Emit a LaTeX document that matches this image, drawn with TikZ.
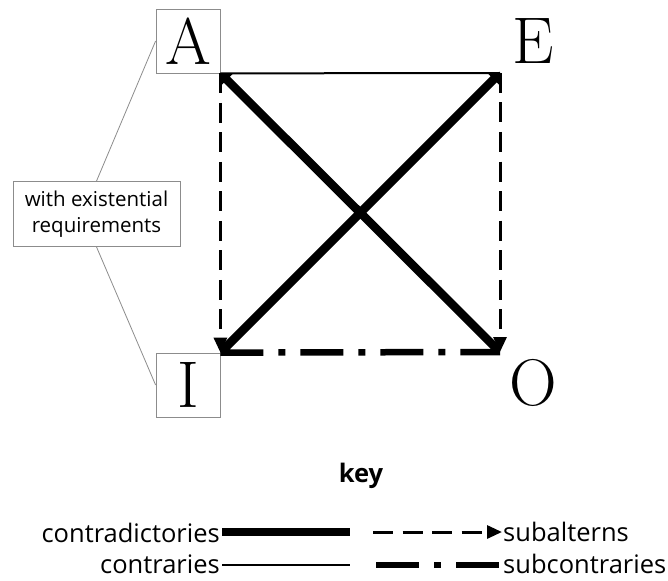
\documentclass[tikz,border=0pt]{standalone}
\usepackage{fontspec}
\setsansfont{Open Sans}
\usetikzlibrary{arrows.meta,positioning}
\tikzstyle{letter}=[font=\fontsize{66}{66}\selectfont, inner sep=0pt, minimum size=64pt]
\tikzstyle{boxed}=[letter, draw=black!45, line width=0.8pt]
\tikzstyle{note}=[draw=black!45, line width=0.8pt, font=\sffamily\fontsize{20.5}{26}\selectfont, align=center, minimum width=167pt, minimum height=65pt, inner sep=0pt]
\tikzstyle{keytext}=[font=\sffamily\fontsize{25.5}{25.5}\selectfont, inner sep=0pt]
\tikzstyle{thin link}=[draw=black!45, line width=0.8pt]
\tikzstyle{contradictory}=[draw, line width=8.5pt]
\tikzstyle{contrary}=[draw, line width=2pt]
\tikzstyle{subaltern}=[draw, line width=3pt, dash pattern=on 20pt off 9.5pt, -{Triangle[length=15pt,width=13pt]}]
\tikzstyle{subcontrary}=[draw, line width=6.5pt, dash pattern=on 43pt off 15pt on 7pt off 15pt]

\begin{document}
\begin{tikzpicture}[x=1pt, y=-1pt]
    \useasboundingbox (0,0) rectangle (668,580);
    % The four corners of the square
    \node[boxed] (A) at (188,41) {A};
    \node[boxed] (I) at (188,385) {I};
    \node[letter] (E) at (533,41) {E};
    \node[letter] (O) at (533,383) {O};
    \coordinate (cA) at (A.south east);
    \coordinate (cI) at (I.north east);
    \coordinate (cE) at (500,73);
    \coordinate (cO) at (500,352);
    % Note on the left
    \node[note] (exist) at (96.5,214) {with existential\\requirements};
    \path[thin link] (exist.north) -- (A.west);
    \path[thin link] (exist.south) -- (I.west);
    % Relations between the corners
    \path[subaltern] (cA) -- (cI);
    \path[subaltern] (cE) -- (cO);
    \path[subcontrary] (cI) -- (cO);
    \path[contrary] (cA) -- (cE);
    \foreach \source/\dest in {cA/cO, cE/cI}
        \path[contradictory, {Triangle[length=9pt,width=16pt]}-{Triangle[length=9pt,width=16pt]}] (\source) -- (\dest);
    % The key
    \node[keytext, font=\sffamily\bfseries\fontsize{25.5}{25.5}\selectfont, anchor=base] (key) at (361,482) {key};
    \foreach \pos/\name/\txt in {{(220,542)/ktA/contradictories}, {(220,573)/ktB/contraries}}
        \node[keytext, anchor=base east] (\name) at \pos {\txt};
    \foreach \pos/\name/\txt in {{(503,541)/ktC/subalterns}, {(503,573)/ktD/subcontraries}}
        \node[keytext, anchor=base west] (\name) at \pos {\txt};
    \foreach \x/\y/\name in {222/532/kA1, 350/532/kA2, 222/565/kB1, 350/565/kB2,
                             373/532/kC1, 502/532/kC2, 376/565/kD1, 500/565/kD2}
        \coordinate (\name) at (\x,\y);
    \path[contradictory] (kA1) -- (kA2);
    \path[contrary] (kB1) -- (kB2);
    \path[subaltern] (kC1) -- (kC2);
    \path[subcontrary] (kD1) -- (kD2);
\end{tikzpicture}
\end{document}
